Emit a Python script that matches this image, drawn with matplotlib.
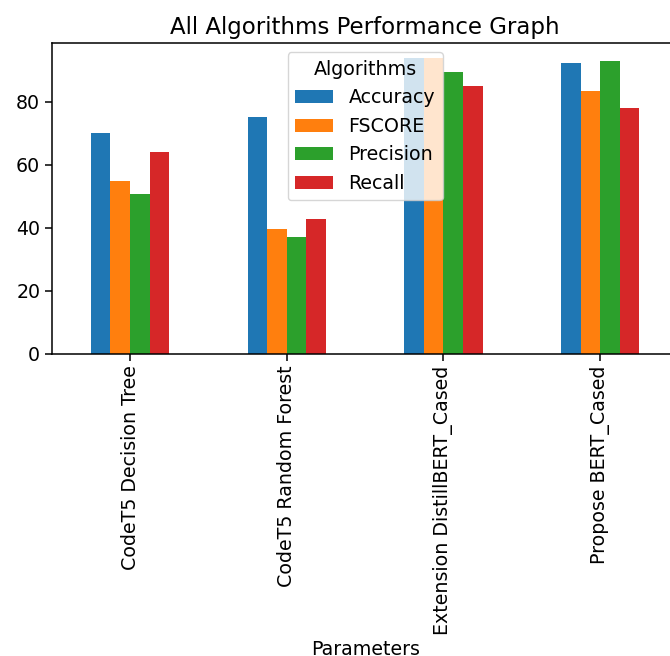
import pandas as pd
import matplotlib
matplotlib.use("Agg")
import matplotlib.pyplot as plt

# Datos
modelos = ["CodeT5 Decision Tree", "CodeT5 Random Forest",
           "Extension DistillBERT_Cased", "Propose BERT_Cased"]
accuracy = [70.0, 75.1, 94.0, 92.2]
fscore = [54.9, 39.6, 94.0, 83.3]
precision = [50.7, 37.1, 89.3, 93.0]
recall = [64.2, 42.7, 85.1, 78.0]

df = pd.DataFrame({"Accuracy": accuracy, "FSCORE": fscore,
                   "Precision": precision, "Recall": recall}, index=modelos)

plt.rcParams["font.size"] = 13.7
plt.rcParams["axes.linewidth"] = 1.1
plt.rcParams["xtick.major.size"] = 4.7
plt.rcParams["ytick.major.size"] = 4.7
plt.rcParams["xtick.major.width"] = 1.1
plt.rcParams["ytick.major.width"] = 1.1

fig = plt.figure(figsize=(6.7, 6.56), dpi=100)
ax = fig.add_axes([0.0772, 0.4604, 0.9355, 0.4745])
df.plot(kind="bar", ax=ax)
ax.set_title("All Algorithms Performance Graph")
ax.set_xlabel("Parameters")
ax.legend(title="Algorithms", loc="upper center")
plt.savefig("out.png", dpi=100)
